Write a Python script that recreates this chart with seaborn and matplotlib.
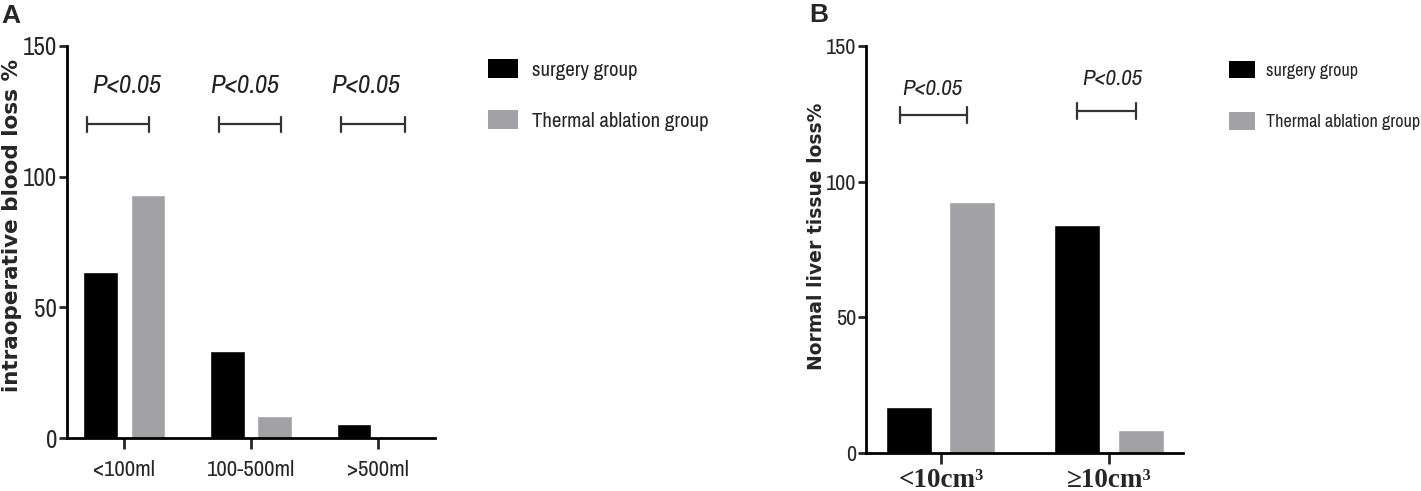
import pandas as pd
import matplotlib
matplotlib.use('Agg')
import matplotlib.pyplot as plt
import seaborn as sns
from matplotlib.patches import Patch
from matplotlib.font_manager import FontProperties

sns.set_style('white')
narrow = ['Archivo Narrow', 'Roboto Condensed', 'Liberation Sans Narrow', 'Liberation Sans', 'DejaVu Sans']
plt.rcParams['font.family'] = narrow

# data
groups = ['surgery group', 'Thermal ablation group']
blood_cats = ['<100ml', '100-500ml', '>500ml']
blood_surgery = [63.5, 33.3, 5.4]
blood_thermal = [93.0, 8.4, 0.0]
tissue_cats = ['<10cm³', '≥10cm³']
tissue_surgery = [17.0, 84.0]
tissue_thermal = [92.5, 8.5]
yticks = [0, 50, 100, 150]

# annotation brackets (x start, x end, y) and p-value labels
blood_brackets = [(-0.29, 0.20, 120), (0.75, 1.24, 120), (1.71, 2.21, 120)]
blood_ptext = [(0.02, 135), (0.95, 135), (1.90, 135)]
tissue_brackets = [(-0.24, 0.155, 124.5), (0.81, 1.16, 126)]
tissue_ptext = [(-0.05, 134), (1.02, 138)]

colors = ['#000000', '#a2a2a6']

df_blood = pd.DataFrame({
    'cat': blood_cats * 2,
    'val': blood_surgery + blood_thermal,
    'group': [groups[0]] * 3 + [groups[1]] * 3,
})
df_tissue = pd.DataFrame({
    'cat': tissue_cats * 2,
    'val': tissue_surgery + tissue_thermal,
    'group': [groups[0]] * 2 + [groups[1]] * 2,
})

fig = plt.figure(figsize=(14.21, 4.91), dpi=100)
axA = fig.add_axes([67/1421, 1-438/491, (435-67)/1421, (438-46)/491])
axB = fig.add_axes([866/1421, 1-453/491, (1183-866)/1421, (453-46)/491])


def draw(ax, df, cats, brackets, ptext, xlim, ylabel, ylab_size, ylab_xy,
         ytick_size, tick_font, xpad, psize):
    sns.barplot(data=df, x='cat', y='val', hue='group', order=cats,
                hue_order=groups, palette=colors, width=0.75, gap=0.27,
                saturation=1, ax=ax, legend=False, errorbar=None)
    ax.set_xlim(*xlim)
    ax.set_ylim(0, 150)
    ax.set_yticks(yticks)
    ax.set_xlabel('')
    ax.set_ylabel(ylabel, fontsize=ylab_size, fontweight='bold',
                  family=['DejaVu Sans'])
    ax.yaxis.set_label_coords(*ylab_xy)
    for s in ['top', 'right']:
        ax.spines[s].set_visible(False)
    for s in ['left', 'bottom']:
        ax.spines[s].set_linewidth(2)
        ax.spines[s].set_color('black')
    ax.tick_params(axis='y', direction='out', length=6, width=2,
                   labelsize=ytick_size, pad=1, left=True)
    ax.tick_params(axis='x', direction='out', length=8, width=2, pad=xpad, bottom=True)
    for lab in ax.get_xticklabels():
        lab.set_fontproperties(tick_font)
    for x0, x1, y in brackets:
        ax.plot([x0, x1], [y, y], color='#333333', lw=1.6, clip_on=False)
        ax.plot([x0, x0], [y - 3, y + 3], color='#333333', lw=1.6, clip_on=False)
        ax.plot([x1, x1], [y - 3, y + 3], color='#333333', lw=1.6, clip_on=False)
    for x, y in ptext:
        ax.text(x, y, 'P<0.05', ha='center', va='center', fontsize=psize,
                style='italic', color='#222222')


fontA = FontProperties(family=narrow, size=16.5)
fontB = FontProperties(family=['Liberation Serif', 'DejaVu Serif'], weight='bold', size=19.5)

draw(axA, df_blood, blood_cats, blood_brackets, blood_ptext, (-0.45, 2.45),
     'intraoperative blood loss %', 15.5, (-0.123, 0.543), 18, fontA, 8, 19)
draw(axB, df_tissue, tissue_cats, tissue_brackets, tissue_ptext, (-0.445, 1.44),
     'Normal liver tissue loss%', 13.5, (-0.125, 0.532), 16, fontB, 3, 16.5)

handles = [Patch(facecolor=c, edgecolor='none') for c in colors]
fig.legend(handles, groups, loc='upper left', bbox_to_anchor=(488/1421, 1-59/491),
           frameon=False, fontsize=15, handlelength=1.45, handleheight=1.05,
           labelspacing=1.45, handletextpad=0.68, borderpad=0, borderaxespad=0)
fig.legend(handles, groups, loc='upper left', bbox_to_anchor=(1229/1421, 1-61/491),
           frameon=False, fontsize=13, handlelength=1.45, handleheight=1.1,
           labelspacing=1.85, handletextpad=0.62, borderpad=0, borderaxespad=0)

fig.text(1/1421, 1-16/491, 'A', fontsize=19, fontweight='bold', va='center',
         family=['Liberation Sans', 'DejaVu Sans'])
fig.text(809/1421, 1-15/491, 'B', fontsize=19, fontweight='bold', va='center',
         family=['Liberation Sans', 'DejaVu Sans'])

fig.savefig('out.png', dpi=100)
